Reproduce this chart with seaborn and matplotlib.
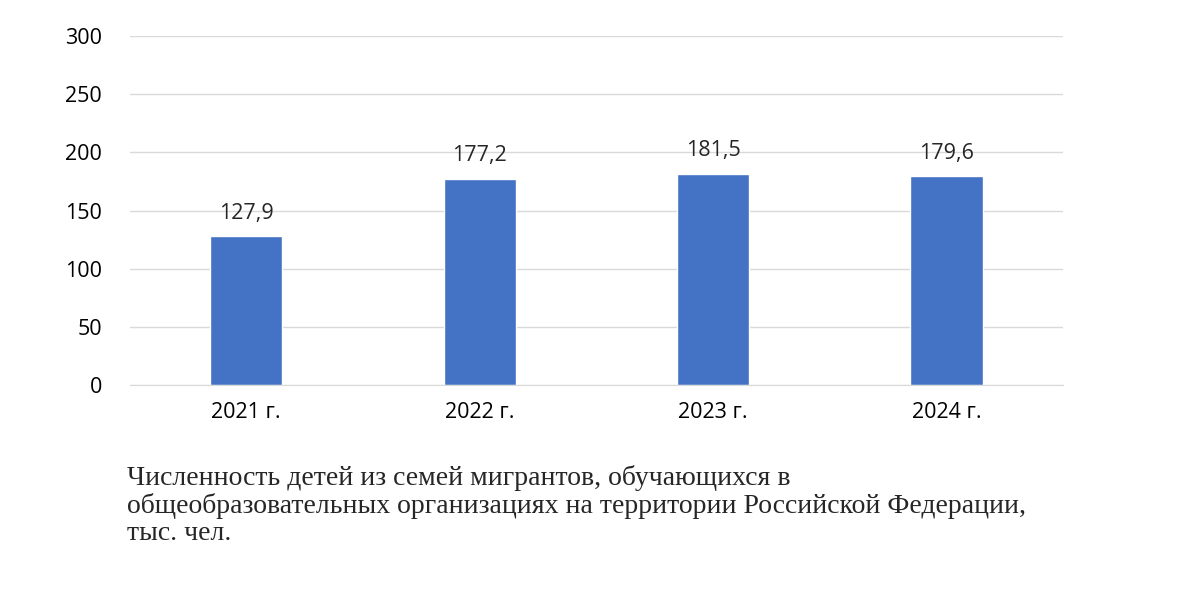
import matplotlib
matplotlib.use("Agg")
import matplotlib.pyplot as plt
import pandas as pd
import seaborn as sns

years = ["2021 г.", "2022 г.", "2023 г.", "2024 г."]
values = [127.9, 177.2, 181.5, 179.6]
labels = ["127,9", "177,2", "181,5", "179,6"]
caption = ("Численность детей из семей мигрантов, обучающихся в\n"
           "общеобразовательных организациях на территории Российской Федерации,\n"
           "тыс. чел.")

sns.set_style("white")
plt.rcParams["font.family"] = ["Open Sans", "DejaVu Sans"]

df = pd.DataFrame({"year": years, "value": values})
fig = plt.figure(figsize=(12, 6), dpi=100)
ax = fig.add_axes([0.108, 0.358, 0.778, 0.582])
sns.barplot(data=df, x="year", y="value", color="#4472C4", saturation=1,
            width=0.31, ax=ax)

ax.set_ylim(0, 300)
ax.set_yticks(range(0, 301, 50))
ax.grid(axis="y", color="#d9d9d9", linewidth=1)
ax.set_axisbelow(True)
for s in ["top", "right", "left"]:
    ax.spines[s].set_visible(False)
ax.spines["bottom"].set_color("#d9d9d9")
ax.tick_params(length=0, labelsize=15.5, colors="black")
ax.tick_params(axis="y", pad=20)
ax.tick_params(axis="x", pad=12)
ax.set_xlabel("")
ax.set_ylabel("")
for i, (v, t) in enumerate(zip(values, labels)):
    ax.annotate(t, (i, v), xytext=(0, 9), textcoords="offset points",
                ha="center", va="bottom", fontsize=15.5)

fig.text(0.106, 0.225, caption, family=["Liberation Serif"], fontsize=20,
         va="top", ha="left", linespacing=1.1)
fig.savefig("out.png", dpi=100)
